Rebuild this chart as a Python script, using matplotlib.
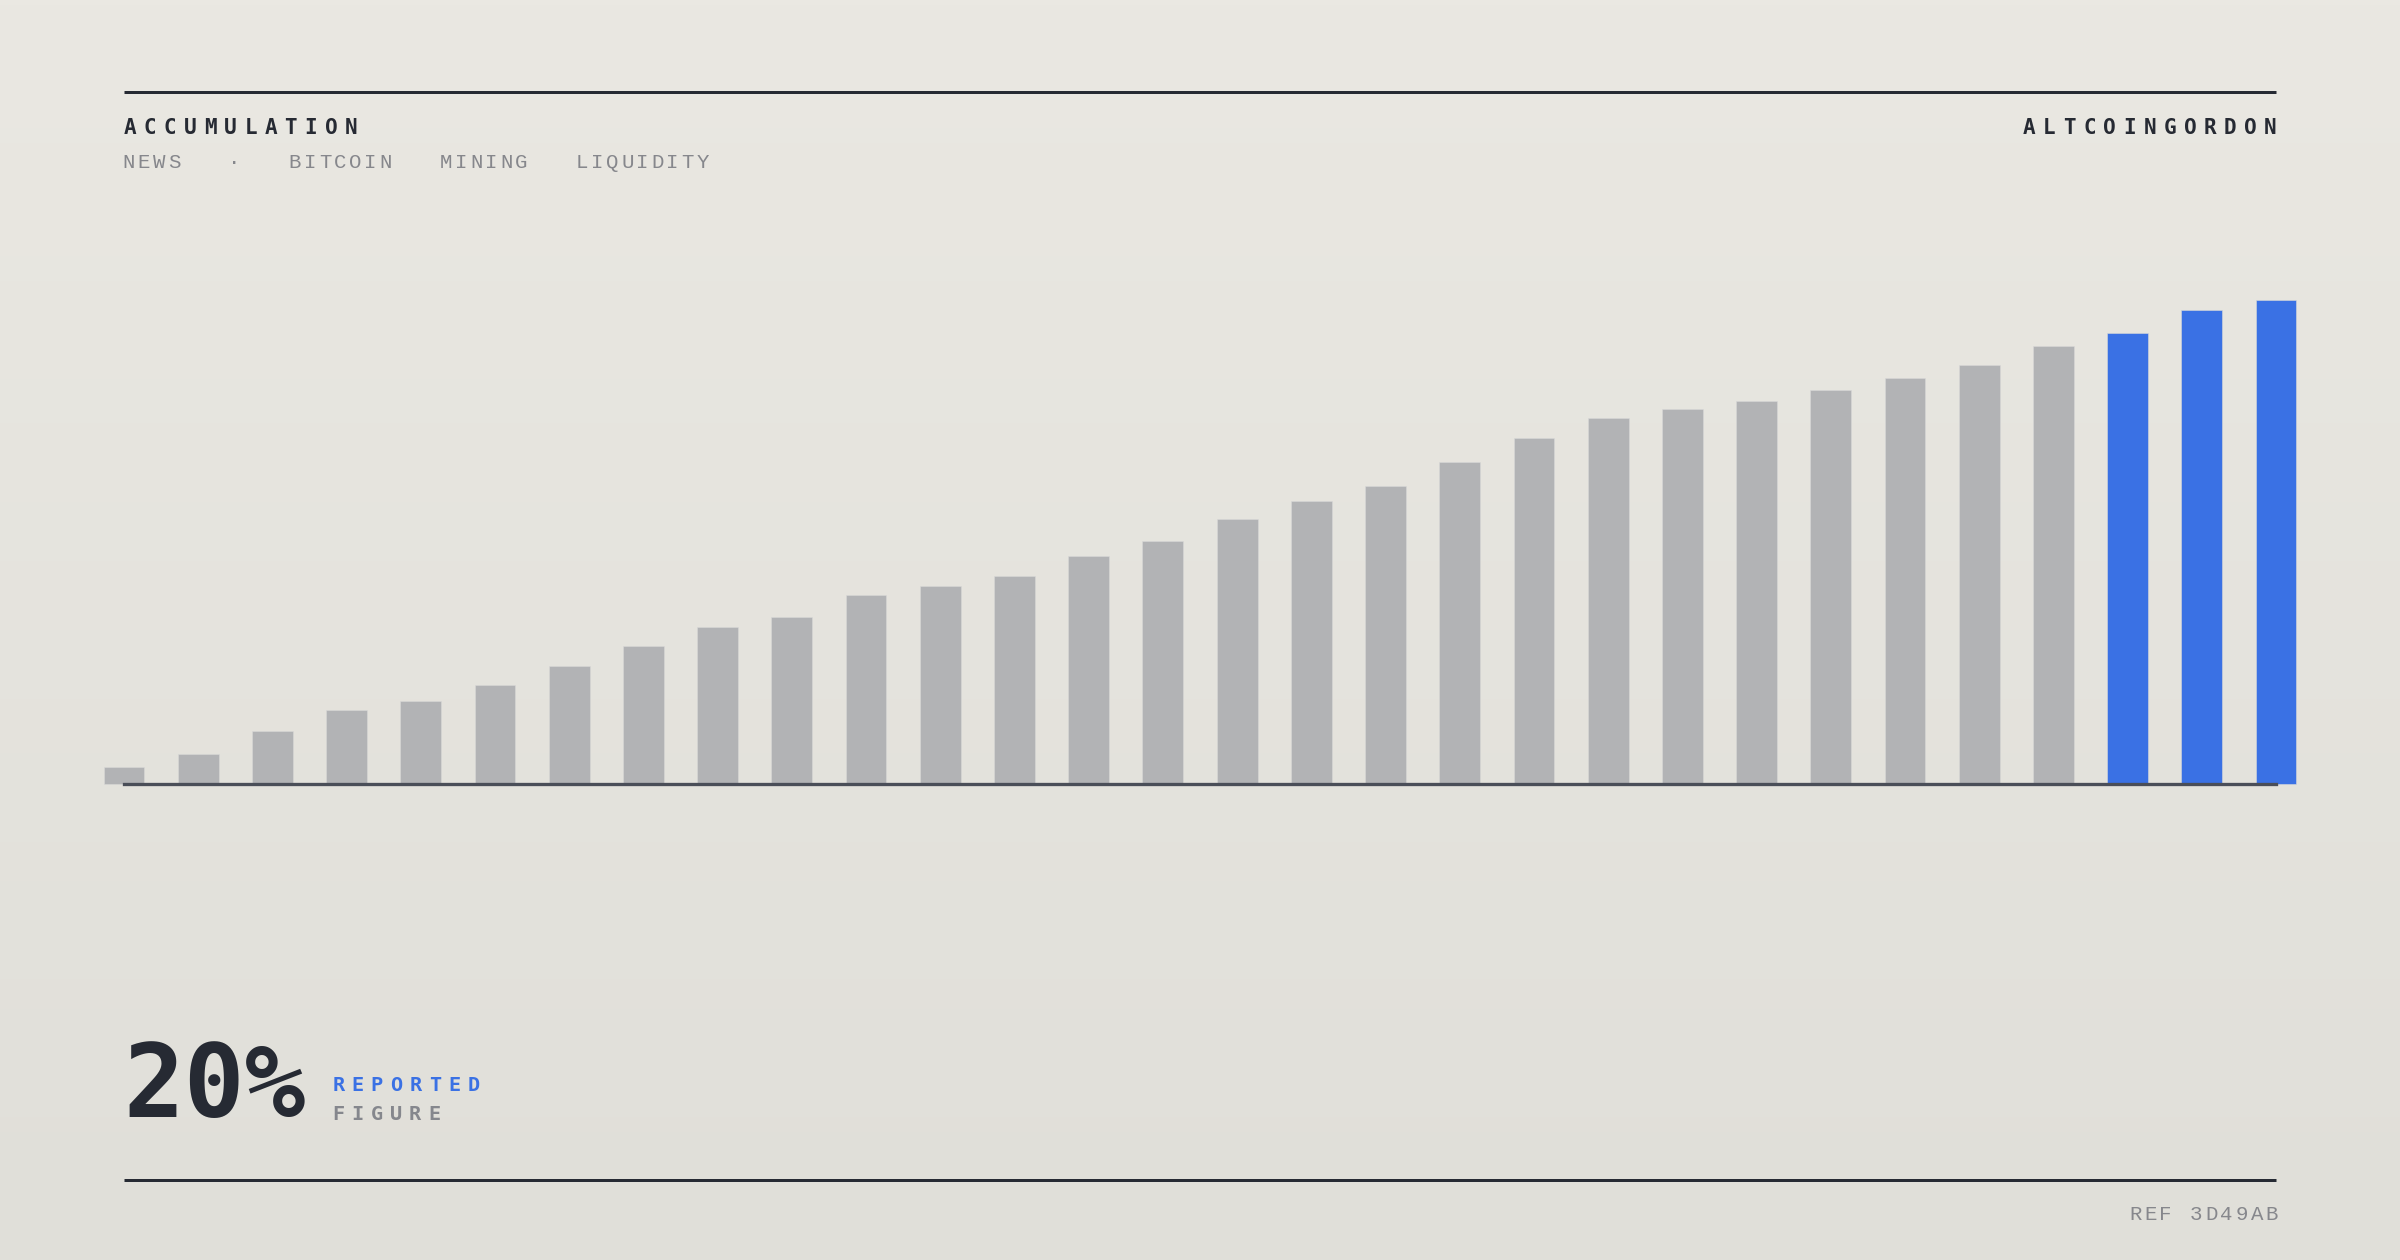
import numpy as np
import matplotlib
matplotlib.use("Agg")
import matplotlib.pyplot as plt
from matplotlib.lines import Line2D

# ---------------- data ----------------
values = [3.5, 6.2, 10.8, 15.1, 17.0, 20.3, 24.2, 28.5, 32.3, 34.4,
          38.9, 40.8, 42.9, 47.1, 50.1, 54.7, 58.4, 61.5, 66.5, 71.4,
          75.5, 77.4, 79.2, 81.4, 83.8, 86.5, 90.5, 93.1, 97.9, 100.0]
highlight_idx = [27, 28, 29]

title = "ACCUMULATION"
tags = ["NEWS", "·", "BITCOIN", "MINING", "LIQUIDITY"]
brand = "ALTCOINGORDON"
stat_value = "20%"
stat_label_1 = "REPORTED"
stat_label_2 = "FIGURE"
ref_text = "REF 3D49AB"

# ---------------- style ----------------
W, H, DPI = 2400, 1260, 100
BG_TOP = np.array([234, 232, 226]) / 255
BG_BOT = np.array([224, 223, 217]) / 255
INK = "#262a33"
MUTED = "#86878c"
BAR_GREY = "#b2b3b5"
BAR_BLUE = "#3a71e4"
MONO = "DejaVu Sans Mono"
MONO_LIGHT = "Liberation Mono"


def px2pt(px):
    return px * 72.0 / DPI


fig = plt.figure(figsize=(W / DPI, H / DPI), dpi=DPI)

# background gradient
bg = fig.add_axes([0, 0, 1, 1], zorder=-10)
grad = np.linspace(0, 1, 256)[:, None, None]
img = BG_TOP[None, None, :] * (1 - grad) + BG_BOT[None, None, :] * grad
bg.imshow(img, aspect="auto", extent=[0, 1, 0, 1], origin="upper")
bg.set_axis_off()

# ---------------- bars ----------------
x0, x1 = 124, 2276
base_y, top_y = 783.5, 300.0
ax = fig.add_axes([x0 / W, (H - base_y) / H, (x1 - x0) / W, (base_y - top_y) / H])
ax.patch.set_alpha(0)
xs = np.arange(len(values))
colors = [BAR_BLUE if i in highlight_idx else BAR_GREY for i in xs]
bars = ax.bar(xs, values, width=0.55, color=colors, edgecolor="#d9d9d8",
              linewidth=0.4, zorder=1)
for b in bars:
    b.set_clip_on(False)
ax.set_xlim(0, len(values) - 1)
ax.set_ylim(0, 100)
for s in ["top", "right", "left"]:
    ax.spines[s].set_visible(False)
ax.spines["bottom"].set_color("#4a4e58")
ax.spines["bottom"].set_linewidth(px2pt(3.3))
ax.spines["bottom"].set_zorder(3)
ax.set_xticks([])
ax.set_yticks([])


# ---------------- rules ----------------
def rule(y_px):
    fig.add_artist(Line2D([x0 / W, x1 / W], [1 - y_px / H] * 2,
                          transform=fig.transFigure, lw=px2pt(3),
                          color=INK, solid_capstyle="butt"))


rule(92)
rule(1180)


# ---------------- tracked text ----------------
def tracked(x_px, y_px, s, size_px, adv, color, weight, align="left",
            glyph_w=11, family=MONO):
    n = len(s)
    if align == "left":
        c0 = x_px + glyph_w / 2
    else:
        c0 = x_px - glyph_w / 2 - (n - 1) * adv
    for k, ch in enumerate(s):
        if ch == " ":
            continue
        fig.text((c0 + k * adv) / W, 1 - y_px / H, ch, ha="center", va="baseline",
                 fontsize=px2pt(size_px), color=color, fontweight=weight,
                 family=family)


tracked(124, 134, title, 21.0, 20.1, INK, "bold", glyph_w=12)
tracked(2276, 134, brand, 21.0, 20.1, INK, "bold", align="right", glyph_w=11)
tracked(124, 168.3, "   ".join(tags), 20.8, 15.1, MUTED, "normal", glyph_w=10,
        family=[MONO_LIGHT, MONO])
tracked(2277, 1220, ref_text, 20.8, 15.2, MUTED, "normal", align="right",
        glyph_w=10, family=[MONO_LIGHT, MONO])

fig.text(123 / W, 1 - 1116.7 / H, stat_value, ha="left", va="baseline",
         fontsize=px2pt(101), color=INK, fontweight="bold", family=MONO)
tracked(332.3, 1090.7, stat_label_1, 20.3, 19.3, BAR_BLUE, "bold", glyph_w=12)
tracked(332.3, 1120.3, stat_label_2, 20.3, 19.2, "#85878d", "bold", glyph_w=12)

fig.savefig("out.png", dpi=DPI)
